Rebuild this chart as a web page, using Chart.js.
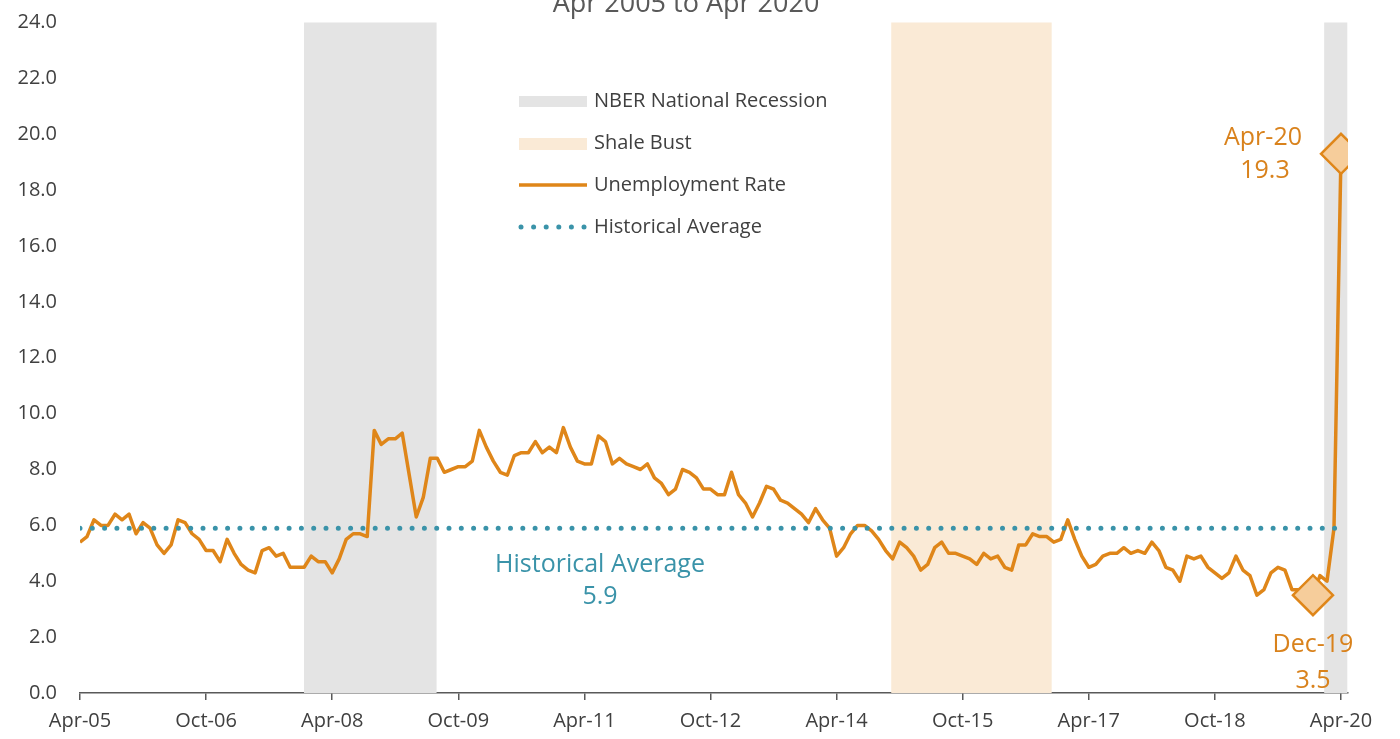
<!DOCTYPE html>
<html>
<head>
<meta charset="utf-8">
<script src="https://cdn.jsdelivr.net/npm/chart.js@4.4.1/dist/chart.umd.min.js"></script>
<style>
  html, body { margin: 0; padding: 0; background: #fff; }
  canvas { display: block; }
</style>
</head>
<body>
<canvas id="chart" width="1400" height="739"></canvas>
<script>
// --- Data (monthly, Apr-05 .. Apr-20) ---
const TICK_LABELS = ['Apr-05', 'Oct-06', 'Apr-08', 'Oct-09', 'Apr-11', 'Oct-12',
                     'Apr-14', 'Oct-15', 'Apr-17', 'Oct-18', 'Apr-20'];
const TICK_STEP = 18; // months between labels

const RATE = [
  5.4, 5.6, 6.2, 6.0, 6.0, 6.4, 6.2, 6.4, 5.7, 6.1, 5.9, 5.3,
  5.0, 5.3, 6.2, 6.1, 5.7, 5.5, 5.1, 5.1, 4.7, 5.5, 5.0, 4.6,
  4.4, 4.3, 5.1, 5.2, 4.9, 5.0, 4.5, 4.5, 4.5, 4.9, 4.7, 4.7,
  4.3, 4.8, 5.5, 5.7, 5.7, 5.6, 9.4, 8.9, 9.1, 9.1, 9.3, 7.8,
  6.3, 7.0, 8.4, 8.4, 7.9, 8.0, 8.1, 8.1, 8.3, 9.4, 8.8, 8.3,
  7.9, 7.8, 8.5, 8.6, 8.6, 9.0, 8.6, 8.8, 8.6, 9.5, 8.8, 8.3,
  8.2, 8.2, 9.2, 9.0, 8.2, 8.4, 8.2, 8.1, 8.0, 8.2, 7.7, 7.5,
  7.1, 7.3, 8.0, 7.9, 7.7, 7.3, 7.3, 7.1, 7.1, 7.9, 7.1, 6.8,
  6.3, 6.8, 7.4, 7.3, 6.9, 6.8, 6.6, 6.4, 6.1, 6.6, 6.2, 5.9,
  4.9, 5.2, 5.7, 6.0, 6.0, 5.8, 5.5, 5.1, 4.8, 5.4, 5.2, 4.9,
  4.4, 4.6, 5.2, 5.4, 5.0, 5.0, 4.9, 4.8, 4.6, 5.0, 4.8, 4.9,
  4.5, 4.4, 5.3, 5.3, 5.7, 5.6, 5.6, 5.4, 5.5, 6.2, 5.5, 4.9,
  4.5, 4.6, 4.9, 5.0, 5.0, 5.2, 5.0, 5.1, 5.0, 5.4, 5.1, 4.5,
  4.4, 4.0, 4.9, 4.8, 4.9, 4.5, 4.3, 4.1, 4.3, 4.9, 4.4, 4.2,
  3.5, 3.7, 4.3, 4.5, 4.4, 3.7, 3.7, 3.6, 3.5, 4.2, 4.0, 5.9,
  19.3
];

const HIST_AVG = 5.9;

// highlighted points: month index + label
const HIGHLIGHT_IDX = [176, 180];
const HIGHLIGHT_LABELS = ['Dec-19', 'Apr-20'];

// shaded periods, in month index from Apr-05
const RECESSION_BANDS = [[31.98, 50.9], [177.6, 180.9]];
const SHALE_BANDS = [[115.8, 138.7]];

// --- Colours / fonts ---
const ORANGE = '#DF8619';
const ORANGE_TEXT = '#D9821C';
const ORANGE_FILL = '#F6CD9B';
const TEAL = '#3A93A9';
const GREY_BAND = '#E4E4E4';
const SHALE_BAND = '#FAEAD6';
const AXIS = '#595959';
const TEXT = '#404040';
const FONT = '"Open Sans", "DejaVu Sans", sans-serif';

// bands behind the lines
const bandsPlugin = {
  id: 'bands',
  beforeDatasetsDraw(chart) {
    const { ctx, chartArea, scales: { x } } = chart;
    ctx.save();
    const fill = (bands, color) => {
      ctx.fillStyle = color;
      bands.forEach(([a, b]) => {
        const x0 = x.getPixelForValue(a), x1 = x.getPixelForValue(b);
        ctx.fillRect(x0, chartArea.top, x1 - x0, chartArea.bottom - chartArea.top);
      });
    };
    fill(RECESSION_BANDS, GREY_BAND);
    fill(SHALE_BANDS, SHALE_BAND);
    ctx.restore();
  }
};

// title, legend, labels
const overlayPlugin = {
  id: 'overlay',
  afterDatasetsDraw(chart) {
    const { ctx, scales: { x, y } } = chart;
    ctx.save();

    // title (cut off by top of picture)
    ctx.fillStyle = AXIS;
    ctx.font = '27px ' + FONT;
    ctx.textAlign = 'center';
    ctx.textBaseline = 'alphabetic';
    ctx.fillText('Apr 2005 to Apr 2020', 686, 12);

    // legend
    const lx = 519, lw = 68, tx = 594;
    ctx.font = '20px ' + FONT;
    ctx.textAlign = 'left';
    ctx.textBaseline = 'middle';
    ctx.fillStyle = GREY_BAND;
    ctx.fillRect(lx, 96, lw, 11);
    ctx.fillStyle = SHALE_BAND;
    ctx.fillRect(lx, 138, lw, 12);
    ctx.strokeStyle = ORANGE;
    ctx.lineWidth = 3.5;
    ctx.beginPath(); ctx.moveTo(lx, 185); ctx.lineTo(lx + lw, 185); ctx.stroke();
    ctx.fillStyle = TEAL;
    for (let k = 0; k < 6; k++) {
      ctx.beginPath(); ctx.arc(lx + 2 + k * 12.6, 227, 2.5, 0, Math.PI * 2); ctx.fill();
    }
    ctx.fillStyle = TEXT;
    ctx.fillText('NBER National Recession', tx, 101);
    ctx.fillText('Shale Bust', tx, 143);
    ctx.fillText('Unemployment Rate', tx, 185);
    ctx.fillText('Historical Average', tx, 227);

    // historical average label
    ctx.font = '25px ' + FONT;
    ctx.textAlign = 'center';
    ctx.fillStyle = TEAL;
    const ay = y.getPixelForValue(HIST_AVG);
    ctx.fillText('Historical Average', 600, ay + 37);
    ctx.fillText(HIST_AVG.toFixed(1), 600, ay + 69);

    // highlight labels
    ctx.fillStyle = ORANGE_TEXT;
    const px0 = x.getPixelForValue(HIGHLIGHT_IDX[0]), py0 = y.getPixelForValue(RATE[HIGHLIGHT_IDX[0]]);
    ctx.fillText(HIGHLIGHT_LABELS[0], px0, py0 + 50);
    ctx.fillText(RATE[HIGHLIGHT_IDX[0]].toFixed(1), px0, py0 + 86);
    const px1 = x.getPixelForValue(HIGHLIGHT_IDX[1]), py1 = y.getPixelForValue(RATE[HIGHLIGHT_IDX[1]]);
    ctx.fillText(HIGHLIGHT_LABELS[1], px1 - 78, py1 - 16);
    ctx.fillText(RATE[HIGHLIGHT_IDX[1]].toFixed(1), px1 - 76, py1 + 17);

    ctx.restore();
  }
};

const ctx = document.getElementById('chart').getContext('2d');
new Chart(ctx, {
  type: 'line',
  data: {
    datasets: [
      {
        label: 'Highlights',
        data: HIGHLIGHT_IDX.map(i => ({ x: i, y: RATE[i] })),
        showLine: false,
        pointStyle: 'rectRot',
        pointRadius: 20,
        backgroundColor: ORANGE_FILL,
        borderColor: ORANGE,
        borderWidth: 2.5,
        order: 0
      },
      {
        label: 'Historical Average',
        data: [{ x: 0, y: HIST_AVG }, { x: RATE.length - 1, y: HIST_AVG }],
        borderColor: TEAL,
        borderWidth: 5,
        borderDash: [0, 12.3],
        borderCapStyle: 'round',
        pointRadius: 0,
        order: 1
      },
      {
        label: 'Unemployment Rate',
        data: RATE.map((v, i) => ({ x: i, y: v })),
        borderColor: ORANGE,
        borderWidth: 3.5,
        borderJoinStyle: 'round',
        pointRadius: 0,
        tension: 0,
        order: 2
      }
    ]
  },
  options: {
    responsive: false,
    animation: false,
    layout: { padding: { left: 0, right: 52, top: 20, bottom: 0 } },
    plugins: { legend: { display: false }, tooltip: { enabled: false } },
    scales: {
      x: {
        type: 'linear',
        min: 0,
        max: 181,
        afterBuildTicks: s => { s.ticks = TICK_LABELS.map((_, k) => ({ value: k * TICK_STEP })); },
        afterFit: s => { s.height = 46; s.paddingLeft = 0; s.paddingRight = 0; },
        grid: { drawOnChartArea: false, drawTicks: true, tickLength: 7, color: AXIS, lineWidth: 1.5 },
        border: { display: true, color: AXIS, width: 1.5 },
        ticks: {
          maxRotation: 0, autoSkip: false, padding: 9,
          color: TEXT, font: { family: FONT, size: 20 },
          callback: v => TICK_LABELS[Math.round(v / TICK_STEP)]
        }
      },
      y: {
        min: 0,
        max: 24,
        afterFit: s => { s.width = 80; s.paddingTop = 0; s.paddingBottom = 0; },
        grid: { display: false, drawTicks: false },
        border: { display: false },
        ticks: {
          stepSize: 2, padding: 23,
          color: TEXT, font: { family: FONT, size: 20 },
          callback: v => v.toFixed(1)
        }
      }
    }
  },
  plugins: [bandsPlugin, overlayPlugin]
});
</script>
</body>
</html>
